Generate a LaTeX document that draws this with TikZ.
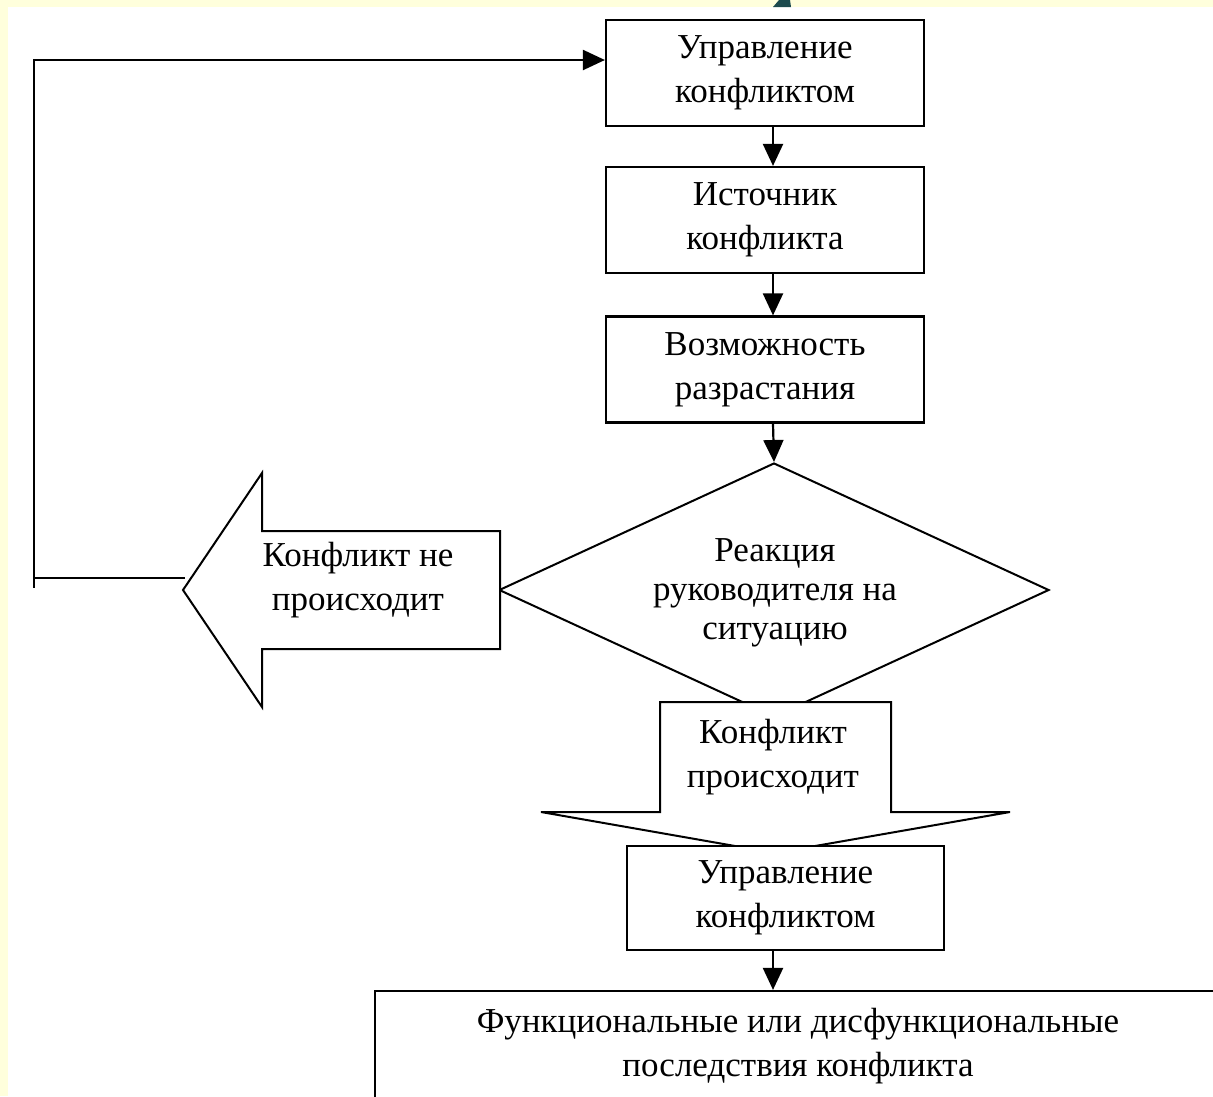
\documentclass[tikz,border=0pt]{standalone}
\usepackage{fontspec}
\setmainfont{Liberation Serif}
\usetikzlibrary{arrows.meta,shapes.geometric}
\definecolor{bgyellow}{HTML}{FFFFDC}
\definecolor{titleteal}{HTML}{1C4A4E}
\tikzset{
  edge/.style={line width=2.2pt, line cap=rect},
  arr/.style={edge, -{Triangle[width=20pt,length=22pt]}},
  stepbox/.style={draw, line width=2.2pt, fill=white, minimum width=318pt, minimum height=106pt,
    align=center, inner sep=0pt, font=\fontsize{35}{44}\selectfont},
  shapeline/.style={draw, line width=2pt, fill=white, line join=miter},
  lbl/.style={align=center, inner sep=0pt, font=\fontsize{35}{44}\selectfont}
}
\begin{document}
\begin{tikzpicture}[x=1pt,y=-1pt]
\useasboundingbox (0,0) rectangle (1213,1096);
\fill[bgyellow] (0,0) rectangle (1213,1096);
\fill[white] (8,7) rectangle (1213,1096);
\fill[titleteal] (773,7) -- (779,0) -- (790,0) -- (791,7) -- cycle;

% column of boxes
\node[stepbox] (b1) at (765,73) {Управление\\конфликтом};
\node[stepbox] (b2) at (765,220) {Источник\\конфликта};
\node[stepbox] (b3) at (765,369.5) {Возможность\\разрастания};

\coordinate (ax) at (773,0);

% diamond
\node[diamond, draw, line width=2pt, fill=white, minimum width=550pt, minimum height=254pt,
  inner sep=0pt] (dia) at (774,590) {};
\node[lbl, font=\fontsize{35}{39}\selectfont] (diatext) at (775,593) {Реакция\\руководителя на\\ситуацию};

% left arrow: no conflict
\path[shapeline] (500,531) -- (262,531) -- (262,473) -- (183,590) -- (262,707) -- (262,649) -- (500,649) -- cycle;
\node[lbl] (no) at (358,580) {Конфликт не\\происходит};

% down arrow: conflict happens
\path[shapeline] (660,702) -- (891,702) -- (891,812) -- (1010,812) -- (775,853) -- (541,812) -- (660,812) -- cycle;
\node[lbl] (yes) at (773,757) {Конфликт\\происходит};

\node[stepbox, minimum width=317pt, minimum height=104pt] (b4) at (785.5,898) {Управление\\конфликтом};

\node[stepbox, minimum width=846pt, minimum height=110pt] (b5) at (798,1046)
  {Функциональные или дисфункциональные\\последствия конфликта};

% connectors
\draw[arr] (b1.south -| ax) -- (b2.north -| ax);
\draw[arr] (b2.south -| ax) -- (b3.north -| ax);
\draw[arr] (b3.south -| ax) -- (dia.north);
\draw[arr] (b4.south -| ax) -- (b5.north -| ax);

% feedback loop
\coordinate (fa) at (184,578);
\coordinate (fb) at (34,578);
\coordinate (fc) at (34,60);
\draw[edge] (34,587) -- (fc);
\draw[edge] (fa) -- (fb);
\draw[arr] (fc) -- (b1.west |- fc);
\end{tikzpicture}
\end{document}
